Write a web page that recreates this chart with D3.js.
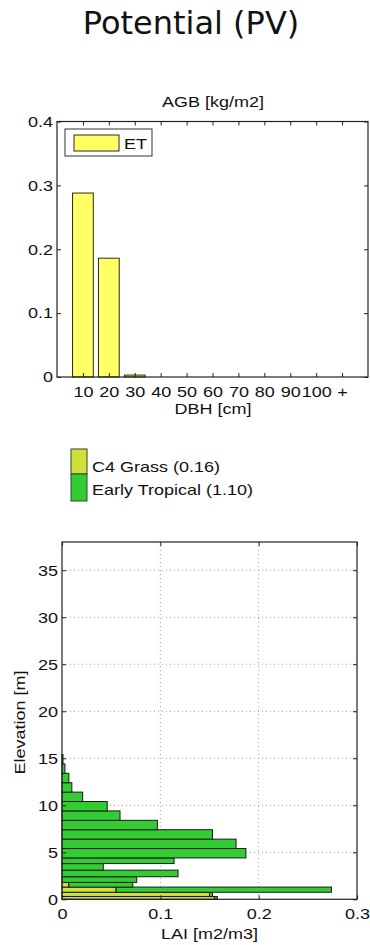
<!DOCTYPE html>
<html>
<head>
<meta charset="utf-8">
<script src="https://cdn.jsdelivr.net/npm/d3@7/dist/d3.min.js"></script>
<style>
  body { margin: 0; background: #fff; }
  svg { display: block; }
  text { font-family: "Liberation Sans", Arial, sans-serif; fill: #111; }
</style>
</head>
<body>
<svg id="chart" width="370" height="945"></svg>
<script>
// ---- data ----
const dbhClasses = ["10", "20", "30", "40", "50", "60", "70", "80", "90", "100", "+"];
const agbET = [0.288, 0.186, 0.003, 0, 0, 0, 0, 0, 0, 0, 0];
const agbTicks = [0, 0.1, 0.2, 0.3, 0.4];

// elevation layers [m] (bottom / top of each layer)
const layerBottom = [0, 0.3, 0.75, 1.3, 1.8, 2.4, 3.1, 3.8, 4.4, 5.4, 6.4, 7.4, 8.4, 9.4, 10.4, 11.4, 12.4, 13.4, 14.4];
const layerTop    = [0.3, 0.75, 1.3, 1.8, 2.4, 3.1, 3.8, 4.4, 5.4, 6.4, 7.4, 8.4, 9.4, 10.4, 11.4, 12.4, 13.4, 14.4, 15.4];
const laiC4Grass  = [0.155, 0.150, 0.055, 0.007, 0, 0, 0, 0, 0, 0, 0, 0, 0, 0, 0, 0, 0, 0, 0];
const laiEarlyTropical = [0.003, 0.003, 0.219, 0.065, 0.076, 0.118, 0.042, 0.114, 0.187, 0.177, 0.153, 0.097, 0.059, 0.046, 0.021, 0.010, 0.007, 0.003, 0.001];
const pftNames = ["C4 Grass (0.16)", "Early Tropical (1.10)"];
const elevTicks = [0, 5, 10, 15, 20, 25, 30, 35];
const laiTicks = [0, 0.1, 0.2, 0.3];

const colET = "#ffff66", colGrass = "#cfe03a", colTrop = "#33cc33";

const svg = d3.select("#chart");
svg.append("rect").attr("width", 370).attr("height", 945).attr("fill", "#fff");

// title
svg.append("text").attr("class", "title")
  .attr("x", 191).attr("y", 34).attr("text-anchor", "middle")
  .style("font-family", "'DejaVu Sans', sans-serif").style("font-size", "32px")
  .text("Potential (PV)");

// ---------- top chart: AGB ----------
const x1 = d3.scaleLinear().domain([0, 12]).range([57, 368]);
const y1 = d3.scaleLinear().domain([0, 0.4]).range([377, 121.5]);
const gTop = svg.append("g");
const bw = 0.8 * (x1(1) - x1(0));

gTop.selectAll("rect.bar").data(agbET).enter().append("rect")
  .attr("class", "bar")
  .attr("x", (d, i) => x1(i + 1) - bw / 2)
  .attr("width", bw)
  .attr("y", d => y1(d))
  .attr("height", d => y1(0) - y1(d))
  .attr("fill", colET).attr("stroke", "#2a2a12").attr("stroke-width", 1);

const fmt1 = d => d === 0 ? "0" : d3.format(".1f")(d);
gTop.append("g").attr("transform", "translate(57,0)")
  .call(d3.axisLeft(y1).tickValues(agbTicks).tickFormat(fmt1).tickSizeInner(-4).tickSizeOuter(0).tickPadding(4));
gTop.append("g").attr("transform", "translate(368,0)")
  .call(d3.axisRight(y1).tickValues(agbTicks).tickFormat("").tickSizeInner(-4).tickSizeOuter(0));
gTop.append("g").attr("transform", "translate(0,377)")
  .call(d3.axisBottom(x1).tickValues(d3.range(1, 12)).tickFormat((d, i) => dbhClasses[i]).tickSizeInner(-4).tickSizeOuter(0).tickPadding(9));
gTop.append("g").attr("transform", "translate(0,121.5)")
  .call(d3.axisTop(x1).tickValues(d3.range(1, 12)).tickFormat("").tickSizeInner(-4).tickSizeOuter(0));
gTop.append("rect").attr("x", 57).attr("y", 121.5).attr("width", 311).attr("height", 255.5)
  .attr("fill", "none").attr("stroke", "#222").attr("stroke-width", 1.2);

// legend ET
gTop.append("rect").attr("x", 65).attr("y", 129).attr("width", 87).attr("height", 27)
  .attr("fill", "#fff").attr("stroke", "#333").attr("stroke-width", 1);
gTop.append("rect").attr("x", 74).attr("y", 135).attr("width", 45).attr("height", 16)
  .attr("fill", colET).attr("stroke", "#2a2a12").attr("stroke-width", 1);
gTop.append("text").attr("x", 124).attr("y", 148.5).style("font-size", "15px").text("ET");

gTop.append("text").attr("x", 213).attr("y", 107).attr("text-anchor", "middle").style("font-size", "15px").text("AGB [kg/m2]");
gTop.append("text").attr("x", 213).attr("y", 414).attr("text-anchor", "middle").style("font-size", "15px").text("DBH [cm]");

// ---------- PFT legend ----------
const leg = svg.append("g");
const legCols = [colGrass, colTrop];
const legY = [449, 474], legH = [25, 27], legBase = [471.5, 495];
pftNames.forEach((n, i) => {
  leg.append("rect").attr("x", 71).attr("y", legY[i]).attr("width", 16).attr("height", legH[i])
    .attr("fill", legCols[i]).attr("stroke", "#2a4a2a").attr("stroke-width", 1);
  leg.append("text").attr("x", 92).attr("y", legBase[i]).style("font-size", "15px").text(n);
});

// ---------- bottom chart: LAI profile ----------
const x2 = d3.scaleLinear().domain([0, 0.3]).range([62, 357]);
const y2 = d3.scaleLinear().domain([0, 38]).range([899.3, 542]);
const gBot = svg.append("g");

// grid
gBot.selectAll("line.gx").data(laiTicks.slice(1, 3)).enter().append("line")
  .attr("x1", d => x2(d)).attr("x2", d => x2(d)).attr("y1", y2(38)).attr("y2", y2(0))
  .attr("stroke", "#9a9a9a").attr("stroke-width", 1).attr("stroke-dasharray", "1,3");
gBot.selectAll("line.gy").data(elevTicks.slice(1)).enter().append("line")
  .attr("x1", x2(0)).attr("x2", x2(0.3)).attr("y1", d => y2(d)).attr("y2", d => y2(d))
  .attr("stroke", "#9a9a9a").attr("stroke-width", 1).attr("stroke-dasharray", "1,3");

const layers = layerBottom.map((b, i) => ({ b: b, t: layerTop[i], g: laiC4Grass[i], e: laiEarlyTropical[i] }));
// C4 grass segment
gBot.selectAll("rect.grass").data(layers.filter(d => d.g > 0)).enter().append("rect")
  .attr("x", x2(0)).attr("width", d => x2(d.g) - x2(0))
  .attr("y", d => y2(d.t)).attr("height", d => y2(d.b) - y2(d.t))
  .attr("fill", colGrass).attr("stroke", "#1a1a1a").attr("stroke-width", 1);
// Early tropical segment stacked on top
gBot.selectAll("rect.trop").data(layers.filter(d => d.e > 0)).enter().append("rect")
  .attr("x", d => x2(d.g)).attr("width", d => x2(d.g + d.e) - x2(d.g))
  .attr("y", d => y2(d.t)).attr("height", d => y2(d.b) - y2(d.t))
  .attr("fill", colTrop).attr("stroke", "#1a1a1a").attr("stroke-width", 1);

gBot.append("g").attr("transform", "translate(62,0)")
  .call(d3.axisLeft(y2).tickValues(elevTicks).tickFormat(d3.format("d")).tickSizeInner(-4).tickSizeOuter(0).tickPadding(4));
gBot.append("g").attr("transform", "translate(357,0)")
  .call(d3.axisRight(y2).tickValues(elevTicks).tickFormat("").tickSizeInner(-4).tickSizeOuter(0));
gBot.append("g").attr("transform", "translate(0,899.3)")
  .call(d3.axisBottom(x2).tickValues(laiTicks).tickFormat(fmt1).tickSizeInner(-4).tickSizeOuter(0).tickPadding(9));
gBot.append("g").attr("transform", "translate(0,542)")
  .call(d3.axisTop(x2).tickValues(laiTicks).tickFormat("").tickSizeInner(-4).tickSizeOuter(0));
gBot.append("rect").attr("x", 62).attr("y", 542).attr("width", 295).attr("height", 357.3)
  .attr("fill", "none").attr("stroke", "#222").attr("stroke-width", 1.2);

gBot.append("text").attr("transform", "translate(25,722.5) rotate(-90)").attr("text-anchor", "middle")
  .style("font-size", "15px").text("Elevation [m]");
gBot.append("text").attr("x", 209.5).attr("y", 939).attr("text-anchor", "middle").style("font-size", "15px").text("LAI [m2/m3]");

// axis styling
svg.selectAll(".domain").remove();
svg.selectAll(".tick line").attr("stroke", "#222");
svg.selectAll(".tick text").style("font-size", "15px").attr("fill", "#111")
  .style("font-family", "'Liberation Sans', Arial, sans-serif");

// matlab-like wide glyphs: stretch text horizontally
svg.selectAll("text").filter(function () { return !d3.select(this).classed("title"); })
  .each(function () {
    const L = this.getComputedTextLength();
    if (L > 0) d3.select(this).attr("textLength", L * 1.2).attr("lengthAdjust", "spacingAndGlyphs");
  });
</script>
</body>
</html>
